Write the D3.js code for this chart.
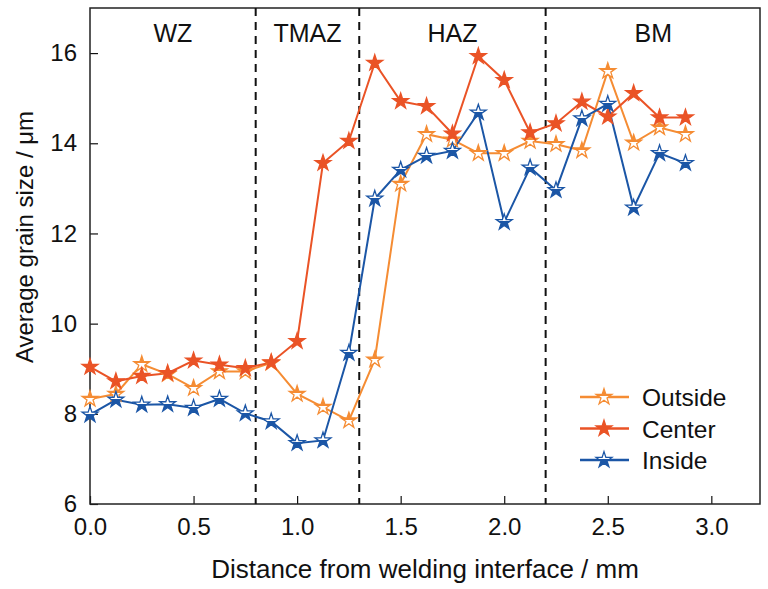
<!DOCTYPE html>
<html>
<head>
<meta charset="utf-8">
<script src="https://cdn.jsdelivr.net/npm/d3@7"></script>
<style>
  body { margin: 0; background: #fff; }
  svg { font-family: "Liberation Sans", Arial, sans-serif; }
</style>
</head>
<body>
<svg id="canvas" width="768" height="589"></svg>
<script>
// distanze dall'interfaccia (mm)
const distanze = [0, 0.125, 0.25, 0.375, 0.5, 0.625, 0.75, 0.875, 1.0, 1.125, 1.25, 1.375,
  1.5, 1.625, 1.75, 1.875, 2.0, 2.125, 2.25, 2.375, 2.5, 2.625, 2.75, 2.875];

const outside = [8.33, 8.44, 9.1, 8.88, 8.57, 8.94, 8.94, 9.13, 8.44, 8.15, 7.85, 9.2,
  13.1, 14.2, 14.08, 13.78, 13.78, 14.05, 13.98, 13.84, 15.6, 14.01, 14.35, 14.2];
const center = [9.04, 8.72, 8.84, 8.9, 9.18, 9.09, 9.01, 9.14, 9.61, 13.56, 14.05, 15.78,
  14.93, 14.82, 14.21, 15.93, 15.4, 14.24, 14.44, 14.92, 14.59, 15.11, 14.57, 14.57];
const inside = [7.98, 8.31, 8.2, 8.21, 8.13, 8.33, 8.01, 7.83, 7.35, 7.41, 9.35, 12.77,
  13.41, 13.72, 13.83, 14.68, 12.25, 13.46, 12.96, 14.55, 14.87, 12.57, 13.78, 13.56];

const serie = [
  { nome: "Outside", valori: outside, colore: "#F58C33", riempimento: "top" },
  { nome: "Center", valori: center, colore: "#EA5326", riempimento: "full" },
  { nome: "Inside", valori: inside, colore: "#1B56A6", riempimento: "bottom" }
];

const confini = [0.8, 1.3, 2.2];
const zone = [
  { nome: "WZ", x: 0.4 },
  { nome: "TMAZ", x: 1.05 },
  { nome: "HAZ", x: 1.75 },
  { nome: "BM", x: 2.72 }
];
const tickX = [0, 0.5, 1.0, 1.5, 2.0, 2.5, 3.0];
const tickY = [6, 8, 10, 12, 14, 16];

const svg = d3.select("#canvas");
const m = { left: 90, right: 760, top: 8, bottom: 504 };

const scalaX = d3.scaleLinear().domain([0, 3.235]).range([m.left, m.right]);
const scalaY = d3.scaleLinear().domain([6, 17]).range([m.bottom, m.top]);

// gradienti per le stelle mezze piene
const defs = svg.append("defs");
serie.forEach((s, i) => {
  const g = defs.append("linearGradient")
    .attr("id", "grad" + i)
    .attr("x1", 0).attr("y1", 0).attr("x2", 0).attr("y2", 1);
  const sopra = s.riempimento === "bottom" ? "#fff" : s.colore;
  const sotto = s.riempimento === "top" ? "#fff" : s.colore;
  g.append("stop").attr("offset", "0.5").attr("stop-color", sopra);
  g.append("stop").attr("offset", "0.5").attr("stop-color", sotto);
});

// assi con tick verso l'interno
svg.append("g")
  .attr("transform", `translate(0,${m.bottom})`)
  .call(d3.axisBottom(scalaX).tickValues(tickX).tickSize(-8).tickPadding(14).tickFormat(d3.format(".1f")))
  .call(g => g.select(".domain").remove())
  .selectAll("text").attr("font-size", 24).attr("fill", "#111");

svg.append("g")
  .attr("transform", `translate(${m.left},0)`)
  .call(d3.axisLeft(scalaY).tickValues(tickY).tickSize(-8).tickPadding(13))
  .call(g => g.select(".domain").remove())
  .selectAll("text").attr("font-size", 24).attr("fill", "#111");

svg.selectAll(".tick line").attr("stroke", "#111").attr("stroke-width", 1.2);

// cornice
svg.append("rect")
  .attr("x", m.left).attr("y", m.top)
  .attr("width", m.right - m.left).attr("height", m.bottom - m.top)
  .attr("fill", "none").attr("stroke", "#222").attr("stroke-width", 1.5);

// linee tratteggiate delle zone
svg.selectAll("line.confine")
  .data(confini)
  .enter()
  .append("line")
  .attr("class", "confine")
  .attr("x1", d => scalaX(d)).attr("x2", d => scalaX(d))
  .attr("y1", m.top).attr("y2", m.bottom)
  .attr("stroke", "#111").attr("stroke-width", 2)
  .attr("stroke-dasharray", "8,6");

svg.selectAll("text.zona")
  .data(zone)
  .enter()
  .append("text")
  .attr("class", "zona")
  .attr("x", d => scalaX(d.x))
  .attr("y", 42)
  .attr("text-anchor", "middle")
  .attr("font-size", 25)
  .attr("fill", "#111")
  .text(d => d.nome);

const linea = d3.line()
  .x((d, i) => scalaX(distanze[i]))
  .y(d => scalaY(d));

const stella = d3.symbol().type(d3.symbolStar).size(78);

serie.forEach((s, i) => {
  svg.append("path")
    .attr("d", linea(s.valori))
    .attr("fill", "none")
    .attr("stroke", s.colore)
    .attr("stroke-width", 2);
});

serie.forEach((s, i) => {
  svg.selectAll(`path.m${i}`)
    .data(s.valori)
    .enter()
    .append("path")
    .attr("class", `m${i}`)
    .attr("d", stella)
    .attr("transform", (d, j) => `translate(${scalaX(distanze[j])},${scalaY(d)})`)
    .attr("fill", `url(#grad${i})`)
    .attr("stroke", s.colore)
    .attr("stroke-width", 1.3);
});

// legenda
const legenda = svg.append("g");
serie.forEach((s, i) => {
  const y = 397 + i * 31.5;
  legenda.append("line")
    .attr("x1", 580).attr("x2", 629).attr("y1", y).attr("y2", y)
    .attr("stroke", s.colore).attr("stroke-width", 2.5);
  legenda.append("path")
    .attr("d", stella)
    .attr("transform", `translate(604,${y})`)
    .attr("fill", `url(#grad${i})`)
    .attr("stroke", s.colore).attr("stroke-width", 1.3);
  legenda.append("text")
    .attr("x", 642).attr("y", y + 9)
    .attr("font-size", 24.5).attr("fill", "#111")
    .text(s.nome);
});

// titoli degli assi
svg.append("text")
  .attr("x", 425).attr("y", 578)
  .attr("text-anchor", "middle")
  .attr("font-size", 26).attr("fill", "#111")
  .text("Distance from welding interface / mm");

svg.append("text")
  .attr("transform", "translate(33,237) rotate(-90)")
  .attr("text-anchor", "middle")
  .attr("font-size", 24).attr("fill", "#111")
  .text("Average grain size / μm");
</script>
</body>
</html>
